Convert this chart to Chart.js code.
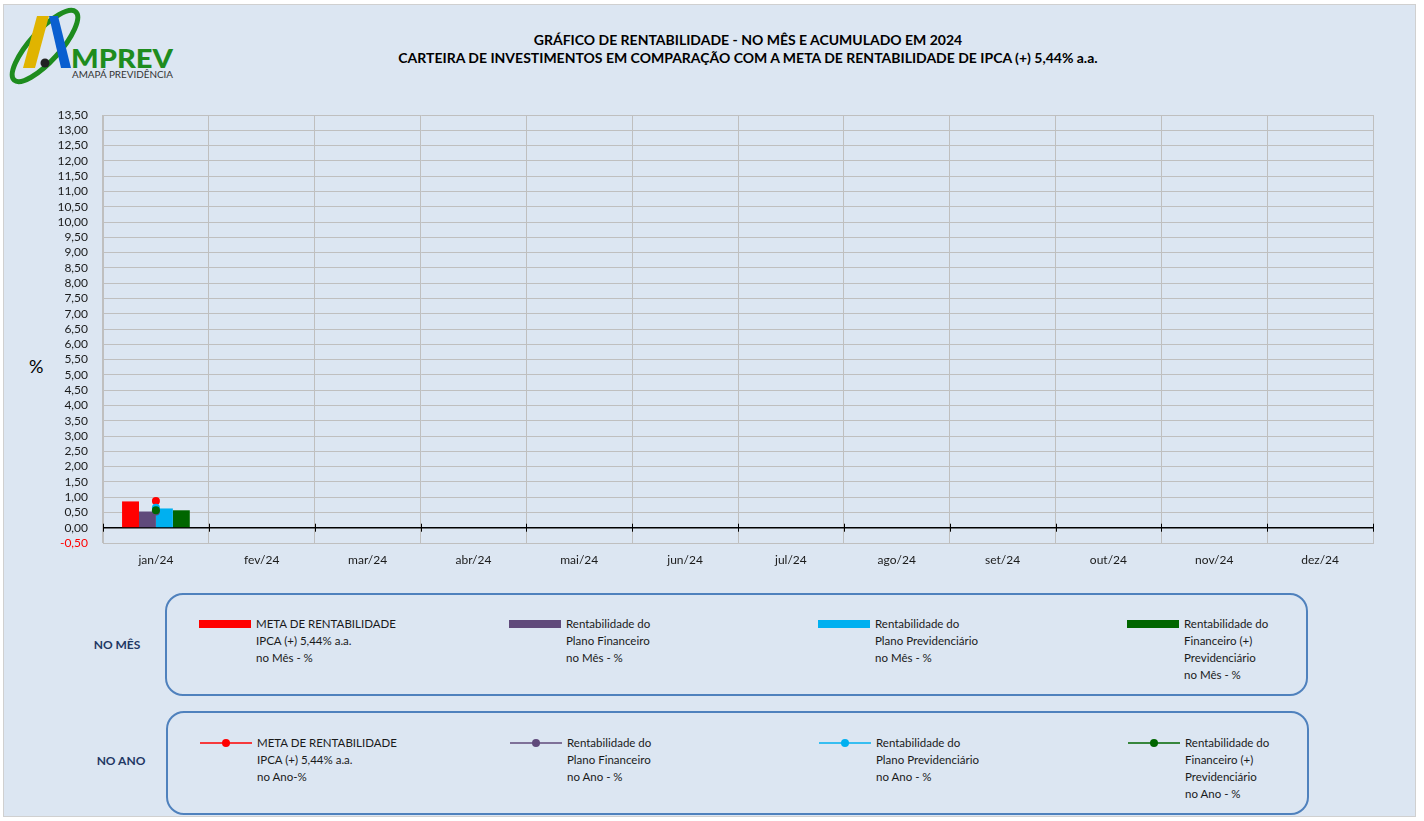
<!DOCTYPE html>
<html>
<head>
<meta charset="utf-8">
<script src="https://cdn.jsdelivr.net/npm/chart.js@4.4.1/dist/chart.umd.min.js"></script>
<style>
  html, body { margin:0; padding:0; background:#ffffff; }
  body { width:1424px; height:821px; position:relative; overflow:hidden; font-family: Lato, "Open Sans", sans-serif; }
  #frame { position:absolute; left:3px; top:4px; width:1413px; height:813px; background:#dce6f2; border:1px solid #d0d0d0; box-sizing:border-box; }
  #chartWrap { position:absolute; left:0; top:0; width:1424px; height:590px; }
  #title { position:absolute; left:348px; width:800px; top:31px; text-align:center; font-weight:bold; font-size:14px; line-height:18px; color:#000; }
  #pct { position:absolute; left:29px; top:355px; font-size:18px; color:#000; }
  .lgbox { position:absolute; left:165px; width:1143px; border:2px solid #4f81bd; border-radius:18px; box-sizing:border-box; }
  .rowlab { position:absolute; font-weight:bold; font-size:12px; color:#1f3864; width:80px; text-align:center; }
  .item { position:absolute; top:0; font-size:11.5px; line-height:17px; color:#1a1a1a; }
  .item .sw { position:absolute; left:0; width:52px; }
  .item .txt { position:absolute; left:57px; white-space:nowrap; }
  #logo { position:absolute; left:5px; top:6px; width:180px; height:80px; }
</style>
</head>
<body>
<div id="frame"></div>
<svg id="logo" viewBox="0 0 180 80" xmlns="http://www.w3.org/2000/svg">
  <ellipse cx="40" cy="40" rx="46" ry="15" transform="rotate(-48 40 40)" fill="none" stroke="#1e8c1e" stroke-width="5"/>
  <polygon points="32,10 44,10 30,62 18,62" fill="#e0b400"/>
  <polygon points="44,10 53,10 66,62 56,62" fill="#0a5fd0"/>
  <circle cx="40" cy="57" r="4.5" fill="#222"/>
  <text x="66" y="62" font-family="Lato, sans-serif" font-weight="900" font-size="27" fill="#1e8c1e" textLength="102" lengthAdjust="spacingAndGlyphs">MPREV</text>
  <text x="67" y="72" font-family="Lato, sans-serif" font-size="9.5" fill="#333" textLength="101" lengthAdjust="spacingAndGlyphs">AMAPÁ PREVIDÊNCIA</text>
</svg>
<div id="title">GRÁFICO DE RENTABILIDADE - NO MÊS E ACUMULADO EM 2024<br>CARTEIRA DE INVESTIMENTOS EM COMPARAÇÃO COM A META DE RENTABILIDADE DE IPCA (+) 5,44% a.a.</div>
<div id="pct">%</div>
<div id="chartWrap"><canvas id="c" width="1424" height="590"></canvas></div>

<div class="rowlab" style="left:77px; top:637px;">NO MÊS</div>
<div class="rowlab" style="left:81px; top:753px;">NO ANO</div>
<div class="lgbox" id="lgMes" style="top:593px; height:103px;"></div>
<div class="lgbox" id="lgAno" style="top:711px; height:104px; left:166px;"></div>

<script>
// ---- data ----
const months = ['jan/24','fev/24','mar/24','abr/24','mai/24','jun/24','jul/24','ago/24','set/24','out/24','nov/24','dez/24'];
const metaMes  = [0.86, null, null, null, null, null, null, null, null, null, null, null];
const finMes   = [0.53, null, null, null, null, null, null, null, null, null, null, null];
const prevMes  = [0.63, null, null, null, null, null, null, null, null, null, null, null];
const totalMes = [0.57, null, null, null, null, null, null, null, null, null, null, null];
const metaAno  = [0.87, null, null, null, null, null, null, null, null, null, null, null];
const finAno   = [0.53, null, null, null, null, null, null, null, null, null, null, null];
const prevAno  = [0.65, null, null, null, null, null, null, null, null, null, null, null];
const totalAno = [0.57, null, null, null, null, null, null, null, null, null, null, null];
const yMin = -0.5, yMax = 13.5, yStep = 0.5;

const colors = ['#ff0000', '#604a7b', '#00b0f0', '#006600'];
const mesLabels = [
  ['META DE RENTABILIDADE','IPCA (+) 5,44% a.a.','no Mês - %'],
  ['Rentabilidade do','Plano Financeiro','no Mês - %'],
  ['Rentabilidade do','Plano Previdenciário','no Mês - %'],
  ['Rentabilidade do','Financeiro (+)','Previdenciário','no Mês - %']
];
const anoLabels = [
  ['META DE RENTABILIDADE','IPCA (+) 5,44% a.a.','no Ano-%'],
  ['Rentabilidade do','Plano Financeiro','no Ano - %'],
  ['Rentabilidade do','Plano Previdenciário','no Ano - %'],
  ['Rentabilidade do','Financeiro (+)','Previdenciário','no Ano - %']
];

const barData = [metaMes, finMes, prevMes, totalMes];
const lineData = [metaAno, finAno, prevAno, totalAno];

const datasets = [];
barData.forEach((d, i) => datasets.push({
  type:'bar', label: mesLabels[i].join(' '), data: d, backgroundColor: colors[i],
  borderWidth: 0, order: 10, barPercentage: 1.0, categoryPercentage: 0.64
}));
lineData.forEach((d, i) => datasets.push({
  type:'line', label: anoLabels[i].join(' '), data: d, borderColor: colors[i], backgroundColor: colors[i],
  pointRadius: 4, pointBorderWidth: 0, borderWidth: 1.5, order: 4 - i, spanGaps: false
}));

// zero-axis line with tick marks at category boundaries
const zeroAxis = {
  id: 'zeroAxis',
  beforeDatasetsDraw(chart) {
    const x = chart.scales.x, y = chart.scales.y, ctx = chart.ctx;
    const y0 = y.getPixelForValue(0);
    ctx.save();
    ctx.strokeStyle = '#000'; ctx.lineWidth = 1.5;
    ctx.beginPath(); ctx.moveTo(x.left, y0); ctx.lineTo(x.right, y0); ctx.stroke();
    ctx.lineWidth = 1;
    const n = months.length;
    const w = (x.getPixelForValue(1) - x.getPixelForValue(0));
    for (let i = 0; i <= n; i++) {
      const px = Math.round(x.getPixelForValue(0) - w/2 + i*w) + 0.5;
      ctx.beginPath(); ctx.moveTo(px, y0 - 4); ctx.lineTo(px, y0 + 4); ctx.stroke();
    }
    ctx.restore();
  }
};

new Chart(document.getElementById('c'), {
  data: { labels: months, datasets },
  plugins: [zeroAxis],
  options: {
    responsive: false, animation: false,
    layout: { padding: { left: 0, right: 51, top: 115, bottom: 10 } },
    plugins: { legend: { display: false }, tooltip: { enabled: false }, title: { display: false } },
    scales: {
      x: {
        offset: true,
        grid: { offset: true, color: '#bfbfbf', lineWidth: 1, drawTicks: false },
        border: { color: '#bfbfbf' },
        ticks: { padding: 10, color: '#1a1a1a', font: { family: 'Lato', size: 12 }, maxRotation: 0 },
        afterFit(s) { s.height = 37; }
      },
      y: {
        min: yMin, max: yMax,
        grid: { color: '#bfbfbf', lineWidth: 1, drawTicks: false },
        border: { color: '#bfbfbf' },
        ticks: {
          stepSize: yStep, padding: 15, autoSkip: false,
          font: { family: 'Lato', size: 12 },
          color: (c) => c.tick && c.tick.value < 0 ? '#ff0000' : '#1a1a1a',
          callback: (v) => Number(v).toFixed(2).replace('.', ',')
        },
        afterFit(s) { s.width = 103; }
      }
    }
  }
});

// HTML legend boxes built from the same arrays
function buildLegend(el, labels, kind) {
  const xs = [32, 342, 651, 960];
  labels.forEach((lines, i) => {
    const it = document.createElement('div');
    it.className = 'item';
    it.style.left = xs[i] + 'px';
    it.style.top = (kind === 'bar' ? 20 : 21) + 'px';
    let sw;
    if (kind === 'bar') {
      sw = `<div class="sw" style="top:5px;height:8px;background:${colors[i]}"></div>`;
    } else {
      sw = `<svg class="sw" style="top:3px;height:12px" width="52" height="12"><line x1="0" y1="6" x2="52" y2="6" stroke="${colors[i]}" stroke-width="1.5"/><circle cx="26" cy="6" r="4" fill="${colors[i]}"/></svg>`;
    }
    it.innerHTML = sw + `<div class="txt">${lines.join('<br>')}</div>`;
    el.appendChild(it);
  });
}
buildLegend(document.getElementById('lgMes'), mesLabels, 'bar');
buildLegend(document.getElementById('lgAno'), anoLabels, 'line');
</script>
</body>
</html>
